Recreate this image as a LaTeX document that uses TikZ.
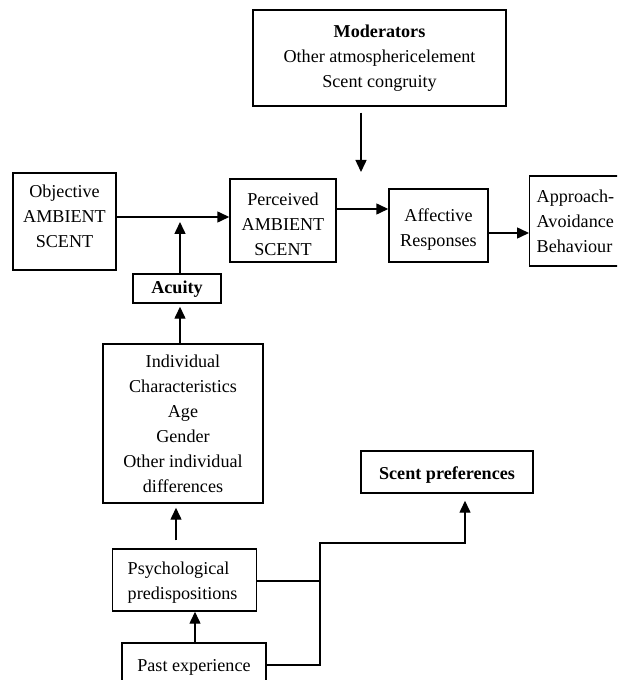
\documentclass[tikz,border=0pt]{standalone}
\usepackage{fontspec}
\setmainfont{Liberation Serif}
\usetikzlibrary{arrows.meta}
% invisible struts that nudge a text block inside its box
\newcommand\padtop[1]{\rule{0pt}{#1}}
\newcommand\padbottom[1]{\rule[-#1]{0pt}{#1}}
\begin{document}
\begin{tikzpicture}[x=0.75pt,y=-0.75pt,
  box/.style={draw, line width=1.1pt, align=center, inner sep=0pt,
    font=\fontsize{13.6}{18.75}\selectfont},
  link/.style={line width=1.1pt},
  arr/.style={link, -{Triangle[length=9pt,width=8.25pt]}}]
\useasboundingbox (0,0) rectangle (617,680);
\clip (0,0) rectangle (617,680);
\fill[white] (0,0) rectangle (617,680);

% boxes
\node[box, minimum width=189.75pt, minimum height=72pt] (mod) at (379.5,58)
  {\textbf{Moderators}\\Other atmosphericelement\\Scent congruity};
\node[box, minimum width=77.25pt, minimum height=72.75pt] (obj) at (64.5,221.5)
  {Objective\\AMBIENT\\SCENT\padbottom{7.5pt}};
\node[box, minimum width=79.5pt, minimum height=62.25pt] (per) at (283,220.5)
  {\padtop{15pt}Perceived\\AMBIENT\\SCENT};
\node[box, minimum width=74.25pt, minimum height=54.75pt] (aff) at (438.5,225.5)
  {\padtop{15pt}Affective\\Responses};
\node[box, anchor=west, align=left, inner xsep=5.25pt, text width=61.5pt,
  minimum height=67.5pt] (app) at (529,221)
  {Approach-\\Avoidance\\Behaviour};
\node[box, minimum width=66pt, minimum height=21.75pt] (acu) at (177,288.5)
  {\padtop{11pt}\textbf{Acuity}};
\node[box, minimum width=120pt, minimum height=119.25pt] (ind) at (183,423.5)
  {Individual\\Characteristics\\Age\\Gender\\Other individual\\differences};
\node[box, minimum width=129pt, minimum height=31.5pt] (pref) at (447,472)
  {\padtop{13.7pt}\textbf{Scent preferences}};
\node[box, anchor=west, align=left, inner xsep=11.25pt, text width=85.5pt,
  minimum height=46.5pt] (psy) at (112,580)
  {\padtop{13.7pt}Psychological\\predispositions};
\node[box, minimum width=108pt, minimum height=36pt] (past) at (194,667)
  {Past experience};

% helper coordinates for connector levels
\coordinate (yobj) at (0,217);
\coordinate (yper) at (0,209);
\coordinate (yaff) at (0,233);
\coordinate (hit) at (180,222);
\coordinate (ymod) at (361,172);
\coordinate (ypsy) at (0,581);
\coordinate (jt) at (320,543);
\coordinate (jb) at (320,665);
\coordinate (jp) at (320,581);
\coordinate (xpref) at (465,0);
\coordinate (xind) at (176,0);
\coordinate (xpast) at (195,0);

% connectors
\draw[arr, shorten <=4.5pt] (mod.south -| ymod) -- (ymod);
\draw[arr] (obj.east |- yobj) -- (per.west |- yobj);
\draw[arr] (acu.north -| hit) -- (hit);
\draw[arr] (per.east |- yper) -- (aff.west |- yper);
\draw[arr] (aff.east |- yaff) -- (app.west |- yaff);
\draw[arr, shorten >=2.25pt] (ind.north -| hit) -- (acu.south -| hit);
\draw[arr, shorten <=6pt, shorten >=3pt] (psy.north -| xind) -- (ind.south -| xind);
\draw[arr] (past.north -| xpast) -- (psy.south -| xpast);
\draw[link] (psy.east |- ypsy) -- (jp);
\draw[arr, shorten >=5.25pt] (past.east |- jb) -- (jb) -- (jt) -- (jt -| xpref) -- (pref.south -| xpref);
\end{tikzpicture}
\end{document}
